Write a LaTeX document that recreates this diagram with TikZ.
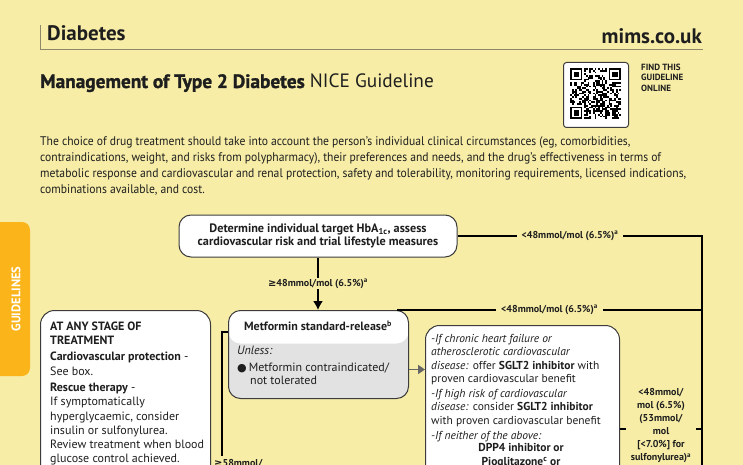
\documentclass[tikz,border=0pt]{standalone}
\usepackage{fontspec}
\setmainfont{PT Sans}
\newfontfamily\parafont[FakeStretch=0.93]{PT Sans}
\newfontfamily\heavyfont[FakeBold=1.4]{PT Sans Bold}
\newfontfamily\symfont{DejaVu Sans}
\usetikzlibrary{arrows.meta,calc}
\definecolor{pagebg}{HTML}{F7EDA7}
\definecolor{tabgold}{HTML}{FBB41A}
\definecolor{rulegray}{HTML}{8C8869}
\definecolor{boxline}{HTML}{3C3C3C}
\definecolor{metgray}{HTML}{E2E2E2}
\definecolor{txt}{HTML}{1E1E1E}
\definecolor{arrgray}{HTML}{666666}
\tikzset{
  box/.style={draw=boxline,line width=1pt,fill=white,rounded corners=12pt,inner sep=0pt},
  flow/.style={draw=black,line width=1.6pt},
  lbl/.style={fill=pagebg,text=txt,inner xsep=5pt,inner ysep=1pt,font=\bfseries\fontsize{10}{13}\selectfont},
  prose/.style={text=txt,inner sep=0pt,align=left},
}
\begin{document}
\begin{tikzpicture}[x=1pt,y=-1pt]
 \useasboundingbox (0,0) rectangle (743,465);
 \clip (0,0) rectangle (743,465);
 \fill[pagebg] (0,0) rectangle (743,465);
 % header
 \draw[rulegray,line width=0.8pt] (40,25) -- (40,49) -- (703,49);
 \node[prose,anchor=base west,font=\bfseries\fontsize{21}{21}\selectfont] (topic) at (47,40.5) {Diabetes};
 \node[prose,anchor=base east,font=\bfseries\fontsize{21}{21}\selectfont] (site) at (702,43.5) {mims.co.uk};
 \node[prose,anchor=base west,font=\fontsize{19.3}{20}\selectfont] (title) at (40,88)
   {{\heavyfont Management of Type 2 Diabetes} NICE Guideline};
 % qr code
 \node[draw=boxline,line width=1pt,fill=white,rounded corners=3pt,minimum size=65,inner sep=0pt,anchor=north west] (qr) at (563,62) {};
 \pgfmathsetseed{42}
 \foreach \i in {0,...,28}{
  \foreach \j in {0,...,28}{
   \pgfmathrandominteger{\bit}{0}{1}
   \ifnum\bit=1 \fill[black] ({570+\i*1.76},{68+\j*1.76}) rectangle ++(1.76,1.76); \fi
  }
 }
 \foreach \fx/\fy in {570/68,608.72/68,570/106.72}{
  \fill[white] ({\fx-1.76},{\fy-1.76}) rectangle ++(15.84,15.84);
  \fill[black] (\fx,\fy) rectangle ++(12.32,12.32);
  \fill[white] ({\fx+1.76},{\fy+1.76}) rectangle ++(8.8,8.8);
  \fill[black] ({\fx+3.52},{\fy+3.52}) rectangle ++(5.28,5.28);
 }
 \node[prose,anchor=north west,font=\bfseries\fontsize{9}{10.5}\selectfont] (findit) at (641,63.5) {FIND THIS\\GUIDELINE\\ONLINE};
 % intro
 \node[prose,anchor=north west,font=\parafont\fontsize{12.5}{16}\selectfont] (intro) at (40,136.5)
   {The choice of drug treatment should take into account the person’s individual clinical circumstances (eg, comorbidities,\\
    contraindications, weight, and risks from polypharmacy), their preferences and needs, and the drug’s effectiveness in terms of\\
    metabolic response and cardiovascular and renal protection, safety and tolerability, monitoring requirements, licensed indications,\\
    combinations available, and cost.};
 % side tab
 \fill[tabgold,rounded corners=8pt] (-10,222) rectangle (30,376);
 \node[rotate=90,text=white,inner sep=0pt,font=\bfseries\fontsize{12.5}{13}\selectfont] (tab) at (16,299) {GUIDELINES};
 % boxes
 \node[box,minimum width=278,minimum height=42,align=center,text=txt,font=\bfseries\fontsize{12.2}{13.5}\selectfont] (target) at (318,236)
   {Determine individual target HbA\textsubscript{1c}, assess\\cardiovascular risk and trial lifestyle measures};
 \node[box,fill=metgray,minimum width=180,minimum height=88,anchor=north west,
   path picture={\fill[white] (path picture bounding box.north west) rectangle ([yshift=-33pt]path picture bounding box.north east);}] (metf) at (228,310) {};
 \node[prose,font=\bfseries\fontsize{12}{13}\selectfont] (metfhead) at (318,325.5) {Metformin standard-release\textsuperscript{b}};
 \node[prose,anchor=north west,font=\fontsize{12}{13.5}\selectfont] (metfbody) at (237,346)
   {\textit{Unless:}\\[3pt]{\symfont\fontsize{11}{10}\selectfont ●}\,Metformin contraindicated/\\\hspace*{13pt}not tolerated};
 \node[box,rounded corners=14pt,minimum width=194,minimum height=200,anchor=north west] (sglt) at (425,325) {};
 \node[prose,anchor=north west,font=\fontsize{11.5}{13.5}\selectfont] (sglttext) at (431,334)
   {\textit{-If chronic heart failure or}\\
    \textit{atherosclerotic cardiovascular}\\
    \textit{disease:} offer \textbf{SGLT2 inhibitor} with\\
    proven cardiovascular benefit\\[1pt]
    \textit{-If high risk of cardiovascular}\\
    \textit{disease:} consider \textbf{SGLT2 inhibitor}\\
    with proven cardiovascular benefit\\[2pt]
    \textit{-If neither of the above:}};
 \node[prose,align=center,anchor=north,font=\bfseries\fontsize{11.5}{14}\selectfont] (sgltdrug) at (521,443.5)
   {DPP4 inhibitor or\\Pioglitazone\textsuperscript{c} or};
 \node[box,rounded corners=14pt,minimum width=170,minimum height=200,anchor=north west] (anystage) at (40,310) {};
 \node[prose,anchor=north west,font=\fontsize{12}{14.3}\selectfont] (anytext) at (50,321.5)
   {\textbf{AT ANY STAGE OF}\\\textbf{TREATMENT}\\[2pt]
    \textbf{Cardiovascular protection} -\\See box.\\[2pt]
    \textbf{Rescue therapy} -\\If symptomatically\\hyperglycaemic, consider\\insulin or sulfonylurea.\\
    Review treatment when blood\\glucose control achieved.};
 % connectors
 \coordinate (rtop) at (702,234);
 \coordinate (rbot) at (702,470);
 \coordinate (lbot) at (222,456);
 \draw[flow,-{Latex[length=9pt,width=10pt]}] (target.south) -- node[lbl]{{\symfont ≥}48mmol/mol (6.5\%)\textsuperscript{a}} (target.south |- metf.north);
 \draw[flow] (target.east) -- node[lbl,pos=0.46]{<48mmol/mol (6.5\%)\textsuperscript{a}} (target.east -| rtop) -- (rbot);
 \draw[flow] ([xshift=-12pt]metf.north east) -- node[lbl]{<48mmol/mol (6.5\%)\textsuperscript{a}} (metf.north -| rtop);
 \draw[arrgray,line width=1.6pt,-{Triangle[length=7pt,width=9pt]}] ([yshift=-15pt]metf.east) -- ([yshift=-15pt]metf.east -| sglt.west);
 \draw[flow] ([yshift=-104pt]sglt.north east) -- node[lbl,align=center,yshift=3pt]
   {<48mmol/\\mol (6.5\%)\\(53mmol/\\mol\\{[}<7.0\%{]} for\\sulfonylurea)\textsuperscript{a}} ([yshift=-104pt]sglt.north east -| rbot);
 \draw[flow] ([yshift=-22pt]metf.north west) -| (lbot);
 \node[prose,anchor=north west,font=\bfseries\fontsize{10}{13}\selectfont] (hba58) at (214,459) {{\symfont ≥}58mmol/};
\end{tikzpicture}
\end{document}
